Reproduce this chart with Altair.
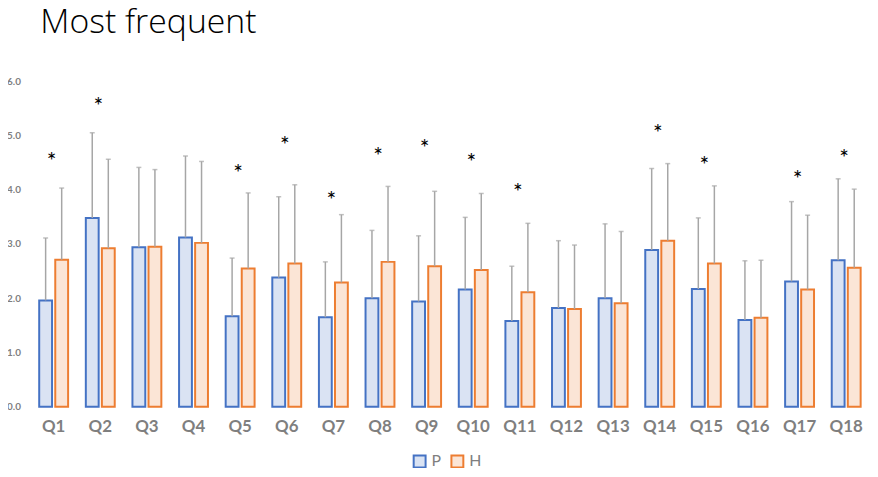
import altair as alt
import pandas as pd

questions = ["Q1", "Q2", "Q3", "Q4", "Q5", "Q6", "Q7", "Q8", "Q9",
             "Q10", "Q11", "Q12", "Q13", "Q14", "Q15", "Q16", "Q17", "Q18"]
series_names = ["P", "H"]

p_mean = [1.96, 3.48, 2.94, 3.12, 1.67, 2.38, 1.65, 2.00, 1.94,
          2.16, 1.58, 1.82, 2.00, 2.89, 2.17, 1.60, 2.31, 2.70]
p_sd = [1.15, 1.57, 1.47, 1.50, 1.07, 1.49, 1.02, 1.25, 1.21,
        1.33, 1.01, 1.24, 1.37, 1.50, 1.31, 1.09, 1.47, 1.50]
h_mean = [2.71, 2.92, 2.95, 3.02, 2.55, 2.64, 2.29, 2.67, 2.59,
          2.52, 2.11, 1.80, 1.91, 3.06, 2.64, 1.64, 2.16, 2.56]
h_sd = [1.32, 1.64, 1.42, 1.50, 1.39, 1.45, 1.25, 1.39, 1.38,
        1.41, 1.27, 1.18, 1.32, 1.42, 1.43, 1.06, 1.37, 1.45]

star_questions = ["Q1", "Q2", "Q5", "Q6", "Q7", "Q8", "Q9", "Q10",
                  "Q11", "Q14", "Q15", "Q17", "Q18"]
star_height = [4.59, 5.60, 4.37, 4.87, 3.87, 4.68, 4.83, 4.56,
               4.01, 5.09, 4.51, 4.25, 4.64]

rows = []
for i, q in enumerate(questions):
    rows.append({"question": q, "series": "P", "mean": p_mean[i], "top": p_mean[i] + p_sd[i]})
    rows.append({"question": q, "series": "H", "mean": h_mean[i], "top": h_mean[i] + h_sd[i]})
df = pd.DataFrame(rows)
stars = pd.DataFrame({"question": star_questions, "star": star_height})

GRAY = "#7F7F7F"
legend = alt.Legend(
    title=None, orient="none", legendX=384, legendY=375, direction="horizontal",
    symbolType="square", symbolSize=144, symbolStrokeWidth=2,
    labelFont="Lato", labelFontSize=16, labelColor=GRAY, labelOffset=4,
    columnPadding=6, padding=0,
)

xenc = alt.X(
    "question:N", sort=questions,
    scale=alt.Scale(paddingInner=0.38, paddingOuter=0.19),
    axis=alt.Axis(title=None, labelAngle=0, domain=False, ticks=False,
                  labelFont="Lato", labelFontWeight="bold", labelFontSize=17,
                  labelColor=GRAY, labelPadding=12),
)
yscale = alt.Scale(domain=[0, 6])

base = alt.Chart(df).encode(
    x=xenc,
    xOffset=alt.XOffset("series:N", sort=series_names,
                        scale=alt.Scale(paddingInner=0.2, paddingOuter=0)),
)

bars = base.mark_bar(strokeWidth=2).encode(
    y=alt.Y("mean:Q", scale=yscale,
            axis=alt.Axis(title=None, values=[0, 1, 2, 3, 4, 5, 6], format=".1f",
                          grid=False, domain=False, ticks=False,
                          labelFont="Lato", labelFontWeight="bold", labelFontSize=10,
                          labelColor=GRAY, labelPadding=10)),
    fill=alt.Fill("series:N", sort=series_names,
                  scale=alt.Scale(domain=series_names, range=["#DAE3F3", "#FBE5D6"]),
                  legend=legend),
    stroke=alt.Stroke("series:N", sort=series_names,
                      scale=alt.Scale(domain=series_names, range=["#4472C4", "#ED7D31"]),
                      legend=legend),
)

rules = base.mark_rule(color="#A6A6A6", strokeWidth=1.5).encode(
    y=alt.Y("mean:Q", scale=yscale), y2="top:Q"
)
caps = base.mark_tick(color="#A6A6A6", size=5, thickness=1.5).encode(
    y=alt.Y("top:Q", scale=yscale)
)

star_marks = alt.Chart(stars).mark_text(
    text="*", font="Lato", fontSize=23, color="#000000", baseline="middle", dx=-2, dy=4
).encode(
    x=alt.X("question:N", sort=questions),
    y=alt.Y("star:Q", scale=yscale),
)

chart = alt.layer(bars, rules, caps, star_marks).properties(
    width=845, height=328,
    title=alt.Title("Most frequent", anchor="start", frame="group", font="Open Sans",
                    fontSize=34, fontWeight=300, color="black", dx=10, offset=2,
                    baseline="bottom"),
    autosize=alt.AutoSizeParams(type="none"),
    padding={"left": 22.5, "top": 72, "right": 0.5, "bottom": 60},
).configure_view(stroke=None)

chart.save("out.html", embed_options={"renderer": "svg", "actions": False})
